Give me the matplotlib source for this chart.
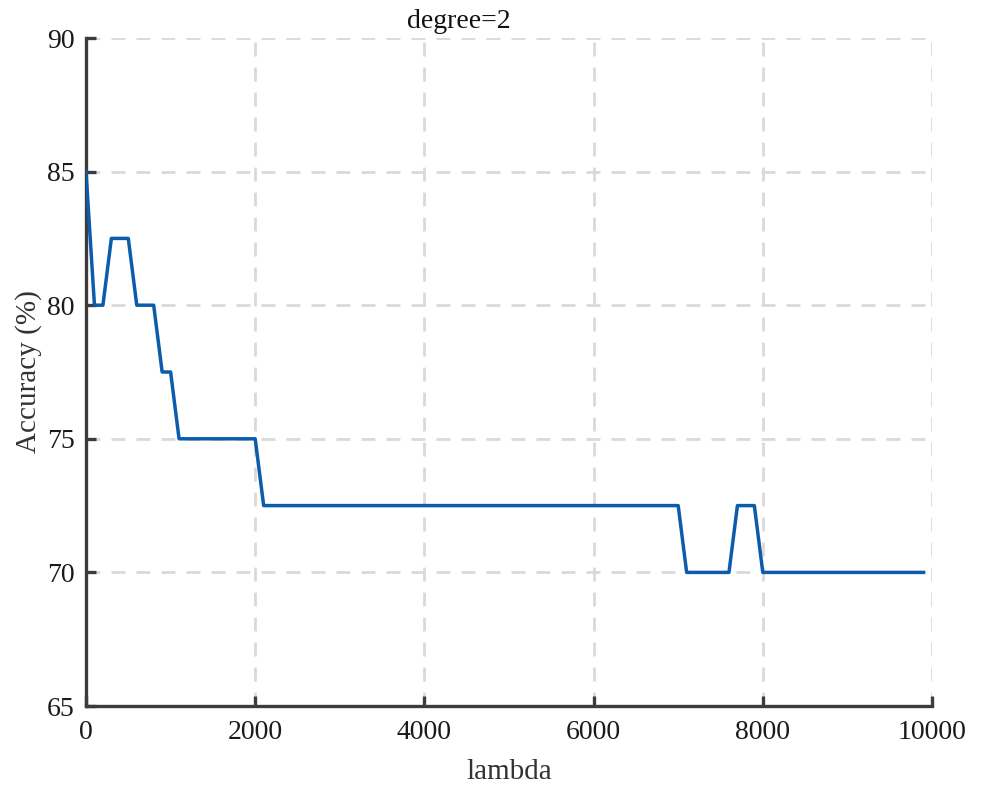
import matplotlib
matplotlib.use("Agg")
from matplotlib import pyplot as plt

# breakpoints of the accuracy curve (lambda, accuracy %)
lam = [0, 100, 200, 300, 500, 600, 800, 900, 1000, 1100, 2000, 2100,
       7000, 7100, 7600, 7700, 7900, 8000, 9900]
acc = [85, 80, 80, 82.5, 82.5, 80, 80, 77.5, 77.5, 75, 75, 72.5,
       72.5, 70, 70, 72.5, 72.5, 70, 70]

x_ticks = [0, 2000, 4000, 6000, 8000, 10000]
y_ticks = [65, 70, 75, 80, 85, 90]

plt.rcParams["font.family"] = ["Liberation Serif", "DejaVu Serif"]

fig = plt.figure(figsize=(9.84, 7.86), dpi=100)
ax = fig.add_axes([86 / 984, 1 - 706 / 786, (932 - 86) / 984, (706 - 38) / 786])

ax.plot(lam, acc, color="#0b5cad", linewidth=2.5, zorder=3)

ax.set_xlim(0, 10000)
ax.set_ylim(65, 90)
ax.set_xticks(x_ticks)
ax.set_yticks(y_ticks)
ax.grid(True, color="#d9d9d9", linewidth=2.0, linestyle=(0, (5, 4)))
ax.set_axisbelow(True)

for side in ["top", "right"]:
    ax.spines[side].set_visible(False)
for side in ["left", "bottom"]:
    ax.spines[side].set_color("#3c3c3c")
    ax.spines[side].set_linewidth(2.4)

ax.tick_params(direction="in", length=7, width=2.4, color="#3c3c3c",
               labelsize=20, labelcolor="#1a1a1a")
ax.tick_params(axis="x", pad=10)
ax.tick_params(axis="y", pad=8)

ax.set_xlabel("lambda", fontsize=21, color="#333333", labelpad=10)
ax.set_ylabel("Accuracy (%)", fontsize=21, color="#333333", labelpad=4)
fig.text(459 / 984, 1 - 22 / 786, "degree=2", ha="center", va="center",
         fontsize=20, color="#111111")

fig.savefig("out.png", dpi=100, facecolor="white")
plt.close(fig)
